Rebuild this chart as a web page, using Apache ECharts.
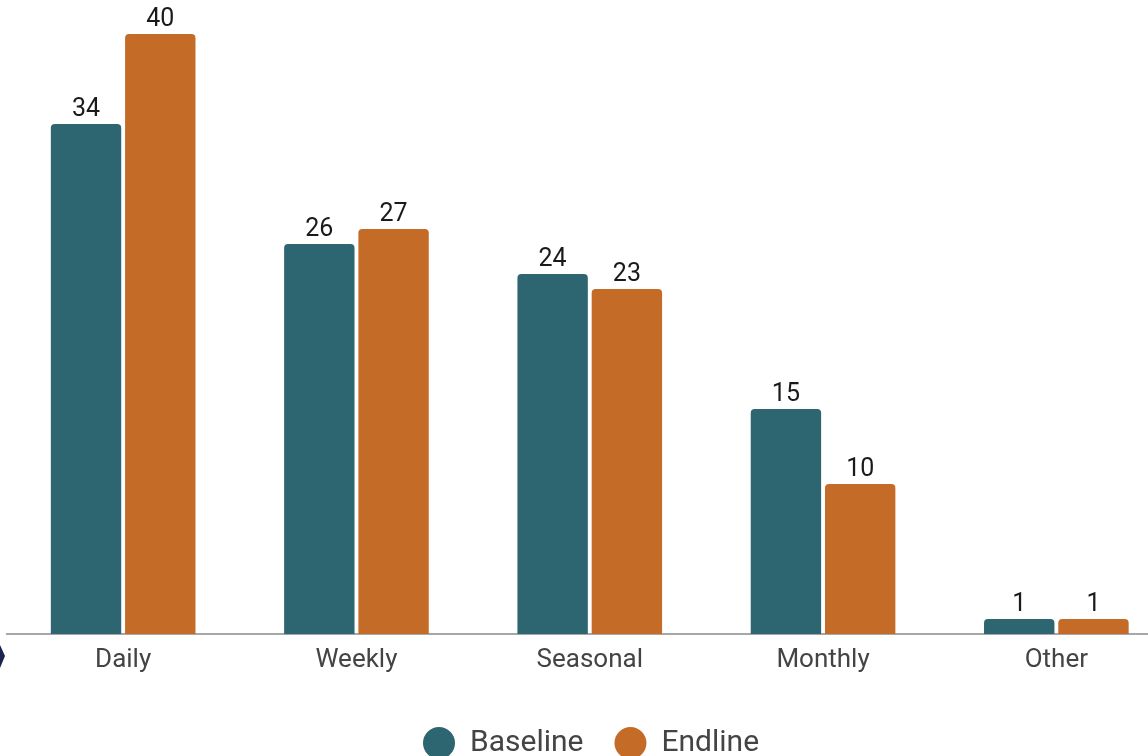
<!DOCTYPE html>
<html>
<head>
<meta charset="utf-8">
<style>
  html, body { margin: 0; padding: 0; background: #ffffff; }
  #chart { width: 1148px; height: 756px; }
</style>
<script src="https://cdn.jsdelivr.net/npm/echarts@6/dist/echarts.min.js"></script>
</head>
<body>
<div id="chart"></div>
<script>
// Frequency categories and counts for the two survey rounds
const categories = ['Daily', 'Weekly', 'Seasonal', 'Monthly', 'Other'];
const baseline = [34, 26, 24, 15, 1];
const endline = [40, 27, 23, 10, 1];
const seriesNames = ['Baseline', 'Endline'];

const TEAL = '#2d6570';
const ORANGE = '#c56b28';
const FONT = 'Roboto, "Noto Sans", sans-serif';

const chart = echarts.init(document.getElementById('chart'));

const valueLabel = {
  show: true,
  position: 'top',
  distance: 2,
  color: '#1a1a1a',
  fontSize: 25,
  fontFamily: FONT
};

chart.setOption({
  animation: false,
  backgroundColor: '#ffffff',
  // plot area runs slightly past the right edge of the canvas
  grid: {
    left: 6.5, width: 1166.5, top: 34, bottom: 122,
    containLabel: false, outerBoundsMode: 'none'
  },
  legend: {
    data: seriesNames,
    bottom: -8,
    left: 418,
    icon: 'circle',
    itemWidth: 32,
    itemHeight: 32,
    itemGap: 31,
    textStyle: { color: '#444444', fontSize: 30, fontFamily: FONT, padding: [0, 0, 0, 10] }
  },
  xAxis: {
    type: 'category',
    data: categories,
    axisTick: { show: false },
    axisLine: { lineStyle: { color: '#8a8a8a', width: 1.5 } },
    axisLabel: { color: '#444444', fontSize: 26, fontFamily: FONT, margin: 13 }
  },
  yAxis: {
    type: 'value',
    min: 0,
    max: 40,
    show: false,
    splitLine: { show: false }
  },
  series: [
    {
      name: seriesNames[0],
      type: 'bar',
      data: baseline,
      barCategoryGap: '38%',
      barGap: '5.5%',
      itemStyle: { color: TEAL, borderRadius: [4, 4, 0, 0] },
      label: valueLabel
    },
    {
      name: seriesNames[1],
      type: 'bar',
      data: endline,
      barCategoryGap: '38%',
      barGap: '5.5%',
      itemStyle: { color: ORANGE, borderRadius: [4, 4, 0, 0] },
      label: valueLabel
    }
  ],
  graphic: [
    {
      type: 'polygon',
      shape: { points: [[-6, 645], [0, 645], [5, 656], [0, 668], [-6, 668]] },
      style: { fill: '#1c2350' }
    }
  ]
});
</script>
</body>
</html>
